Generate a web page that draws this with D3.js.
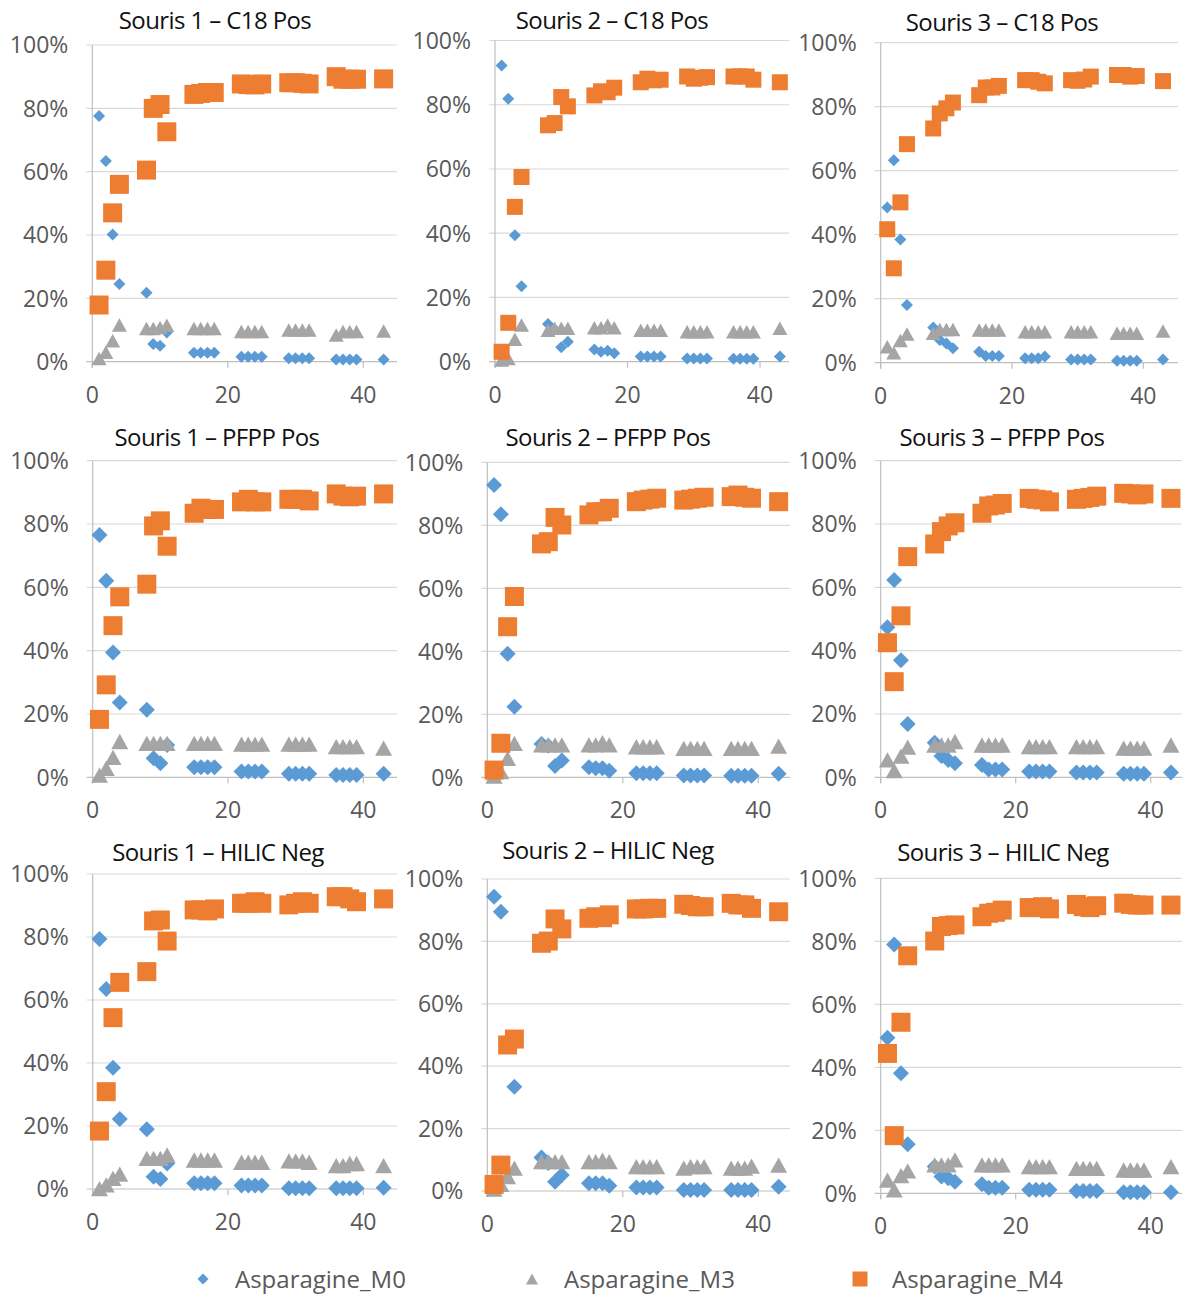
<!DOCTYPE html>
<html><head><meta charset="utf-8">
<script src="https://cdn.jsdelivr.net/npm/d3@7"></script>
<style>body{margin:0;background:#fff} svg{display:block}</style>
</head><body>
<svg id="c" width="1182" height="1294"></svg>
<script>
// ---------- DATA ----------
const timePoints = [1,2,3,4,8,9,10,11,15,16,17,18,22,23,24,25,29,30,31,32,36,37,38,39,43];
const panelTitles = [
  "Souris 1 – C18 Pos","Souris 2 – C18 Pos","Souris 3 – C18 Pos",
  "Souris 1 – PFPP Pos","Souris 2 – PFPP Pos","Souris 3 – PFPP Pos",
  "Souris 1 – HILIC Neg","Souris 2 – HILIC Neg","Souris 3 – HILIC Neg"];
const seriesNames = ["Asparagine_M0","Asparagine_M3","Asparagine_M4"];
const yTickValues = [0,20,40,60,80,100];
const xTickValues = [0,20,40];

const s1C18_M0 = [77.6,63.4,40.2,24.5,21.8,5.6,5.0,9.2,2.8,2.8,2.8,2.8,1.6,1.6,1.6,1.6,1.1,1.1,1.1,1.1,0.7,0.7,0.7,0.7,0.7];
const s1C18_M3 = [1.0,3.0,6.6,11.6,10.5,10.5,10.8,11.5,10.5,10.5,10.5,10.5,9.5,9.5,9.5,9.5,10.0,10.0,10.0,10.0,8.4,9.5,9.5,9.5,9.7];
const s1C18_M4 = [17.9,28.9,47.0,56.0,60.5,80.0,81.2,72.6,84.4,84.7,85.0,85.0,87.7,87.5,87.4,87.7,88.1,88.1,87.9,87.7,90.0,89.2,89.2,89.2,89.3];

const s2C18_M0 = [92.2,81.9,39.4,23.5,11.7,10.0,4.5,6.2,3.8,3.1,3.4,2.6,1.6,1.6,1.6,1.6,1.0,1.0,1.0,1.0,0.9,0.9,0.9,0.9,1.6];
const s2C18_M3 = [0.5,1.0,7.0,11.4,9.8,10.4,10.4,10.4,10.6,10.6,11.4,10.6,9.8,9.8,9.8,9.8,9.3,9.3,9.3,9.3,9.3,9.3,9.3,9.3,10.4];
const s2C18_M4 = [3.1,12.1,48.2,57.5,73.6,74.3,82.4,79.5,82.9,84.2,83.9,85.3,87.0,88.1,87.6,87.8,88.8,88.1,88.4,88.6,88.8,88.8,88.8,87.8,87.0];

const s3C18_M0 = [48.5,63.3,38.5,18.0,11.0,7.1,6.0,4.5,3.4,2.1,2.1,2.1,1.4,1.4,1.4,1.9,1.0,1.0,1.0,1.0,0.6,0.6,0.6,0.6,1.0];
const s3C18_M3 = [5.0,3.1,6.9,9.0,9.2,10.4,10.4,10.4,10.2,10.2,10.2,10.2,9.7,9.7,9.7,9.7,9.7,9.7,9.7,9.7,9.2,9.2,9.2,9.2,9.9];
const s3C18_M4 = [41.7,29.5,50.1,68.3,73.2,77.9,79.5,81.3,83.6,86.0,86.0,86.5,88.3,88.3,87.8,87.3,88.3,88.1,88.5,89.4,89.9,89.9,89.4,89.6,88.0];

const s1PFPP_M0 = [76.5,62.1,39.4,23.6,21.3,6.0,4.4,10.2,3.2,3.2,3.2,3.2,1.8,1.8,1.8,1.8,1.1,1.1,1.1,1.1,0.7,0.7,0.7,0.7,1.1];
const s1PFPP_M3 = [0.7,2.8,6.3,11.3,10.7,10.7,10.7,10.7,10.7,10.7,10.7,10.7,10.5,10.5,10.5,10.5,10.5,10.5,10.5,10.5,9.7,9.7,9.7,9.7,9.2];
const s1PFPP_M4 = [18.3,29.2,47.9,57.0,61.0,79.4,81.0,73.0,83.4,85.0,84.6,84.6,87.0,87.8,87.0,87.0,87.8,87.8,87.8,87.3,89.5,88.8,88.6,88.8,89.5];

const s2PFPP_M0 = [92.8,83.5,39.2,22.4,10.6,10.0,3.6,5.3,3.2,2.9,2.9,2.1,1.3,1.3,1.3,1.3,0.6,0.6,0.6,0.6,0.5,0.5,0.5,0.5,1.1];
const s2PFPP_M3 = [0.4,1.8,6.0,10.8,10.3,10.3,10.3,10.3,10.3,10.3,11.0,10.3,9.7,9.7,9.7,9.7,9.2,9.2,9.2,9.2,9.2,9.2,9.2,9.2,9.9];
const s2PFPP_M4 = [2.3,10.8,47.8,57.4,74.1,74.8,82.5,80.1,83.3,84.3,84.3,85.4,87.5,88.0,88.3,88.6,88.0,88.3,88.6,88.9,89.1,89.6,88.9,88.6,87.5];

const s3PFPP_M0 = [47.4,62.3,37.0,16.8,10.9,6.7,5.5,4.4,3.9,2.5,2.5,2.5,1.8,1.8,1.8,1.8,1.5,1.5,1.5,1.5,1.1,1.1,1.1,1.1,1.5];
const s3PFPP_M3 = [5.5,2.1,6.7,9.5,10.2,10.2,10.2,11.3,10.2,10.2,10.2,10.2,9.7,9.7,9.7,9.7,9.7,9.7,9.7,9.7,9.2,9.2,9.2,9.2,10.2];
const s3PFPP_M4 = [42.5,30.2,51.0,69.7,73.7,77.6,79.4,80.4,83.4,85.7,86.0,86.5,88.1,87.8,87.6,87.0,87.8,88.1,88.4,88.8,89.7,89.5,89.2,89.5,88.1];

const s1HILIC_M0 = [79.4,63.5,38.5,22.2,19.0,3.9,3.2,8.1,1.8,1.8,1.8,1.8,1.1,1.1,1.1,1.1,0.2,0.2,0.2,0.2,0.2,0.2,0.2,0.2,0.4];
const s1HILIC_M3 = [0.1,1.3,3.4,4.7,9.7,9.7,9.7,10.8,9.2,9.2,9.2,9.2,8.5,8.5,8.5,8.5,8.9,8.9,8.9,8.5,7.4,7.4,8.1,8.1,7.4];
const s1HILIC_M4 = [18.4,30.9,54.4,65.6,69.0,85.1,85.4,78.7,88.6,88.6,88.3,88.9,90.7,90.7,91.2,90.7,90.2,90.7,91.2,90.7,92.8,92.8,92.1,91.2,92.1];

const s2HILIC_M0 = [94.3,89.5,47.0,33.4,10.7,9.0,3.0,5.1,2.5,2.5,2.5,1.7,1.1,1.1,1.1,1.1,0.3,0.3,0.3,0.3,0.3,0.3,0.3,0.3,1.4];
const s2HILIC_M3 = [0.6,2.1,4.6,7.3,9.4,9.4,9.4,9.4,9.4,9.4,9.9,9.4,7.8,7.8,7.8,7.8,7.3,7.8,7.8,7.8,7.3,7.3,7.3,8.0,8.3];
const s2HILIC_M4 = [2.1,8.3,46.8,48.7,79.4,80.1,87.2,84.0,87.4,87.9,87.6,88.5,90.4,90.4,90.6,90.6,91.9,91.5,91.1,91.1,92.2,91.7,91.7,90.6,89.5];

const s3HILIC_M0 = [49.4,79.0,38.1,15.6,8.5,5.3,4.8,3.7,2.9,1.8,1.8,1.8,1.1,1.1,1.1,1.1,0.7,0.7,0.7,0.7,0.3,0.3,0.3,0.3,0.3];
const s3HILIC_M3 = [4.2,1.1,5.6,7.1,9.0,9.0,9.0,10.6,9.0,9.0,9.0,9.0,8.5,8.5,8.5,8.5,7.9,7.9,7.9,7.9,7.4,7.4,7.4,7.4,8.5];
const s3HILIC_M4 = [44.4,18.3,54.3,75.4,80.1,84.7,85.0,85.2,87.8,88.9,89.2,89.9,90.7,90.7,91.0,90.3,91.7,91.0,90.7,91.3,92.1,91.7,91.5,91.5,91.5];

const panelSeries = [
  [s1C18_M0, s1C18_M3, s1C18_M4], [s2C18_M0, s2C18_M3, s2C18_M4], [s3C18_M0, s3C18_M3, s3C18_M4],
  [s1PFPP_M0, s1PFPP_M3, s1PFPP_M4], [s2PFPP_M0, s2PFPP_M3, s2PFPP_M4], [s3PFPP_M0, s3PFPP_M3, s3PFPP_M4],
  [s1HILIC_M0, s1HILIC_M3, s1HILIC_M4], [s2HILIC_M0, s2HILIC_M3, s2HILIC_M4], [s3HILIC_M0, s3HILIC_M3, s3HILIC_M4]];

// ---------- LAYOUT / STYLE ----------
const colors = ["#5B9BD5", "#A5A5A5", "#ED7D31"];
const shapes = ["diamond", "triangle", "square"];
// left, top, x at 40, plot right, bottom, title x, title y, marker sizes [diamond, triangle, square]
const layout = [
  {l:92.3, t:45,    x40:363.3,  r:397,  b:361.7,  tx:215,  ty:20,  ms:[12,15,19]},
  {l:495,  t:40.5,  x40:760,    r:789,  b:361.7,  tx:612,  ty:20,  ms:[12,15,16]},
  {l:880.7,t:42.7,  x40:1143.3, r:1178, b:362.7,  tx:1002, ty:22,  ms:[12,15,16]},
  {l:92.7, t:460.7, x40:363.3,  r:397,  b:777.3,  tx:217,  ty:437, ms:[16,17,19]},
  {l:487.3,t:462.3, x40:758.3,  r:790,  b:777.3,  tx:608,  ty:437, ms:[16,17,19]},
  {l:880.7,t:460.7, x40:1150.7, r:1182, b:777.3,  tx:1002, ty:437, ms:[16,17,19]},
  {l:92.7, t:874,   x40:363.3,  r:397,  b:1189,   tx:218,  ty:852, ms:[16,17,19]},
  {l:487.3,t:879,   x40:758.3,  r:790,  b:1191,   tx:608,  ty:850, ms:[16,17,19]},
  {l:880.7,t:878.3, x40:1150.7, r:1182, b:1193.3, tx:1003, ty:852, ms:[16,17,19]}];

const FONT = "'Open Sans', 'Noto Sans', sans-serif";

function markerPath(shape, cx, cy, s) {
  const h = s / 2;
  if (shape === "diamond") return `M${cx},${cy-h}L${cx+h},${cy}L${cx},${cy+h}L${cx-h},${cy}Z`;
  if (shape === "triangle") { const th = s * 0.9; return `M${cx},${cy-th/2}L${cx+h},${cy+th/2}L${cx-h},${cy+th/2}Z`; }
  return `M${cx-h},${cy-h}H${cx+h}V${cy+h}H${cx-h}Z`;
}

const svg = d3.select("#c");
svg.append("rect").attr("width",1182).attr("height",1294).attr("fill","#fff");

layout.forEach((L, i) => {
  const g = svg.append("g");
  const x = d3.scaleLinear().domain([0, 40]).range([L.l, L.x40]);
  const y = d3.scaleLinear().domain([0, 100]).range([L.b, L.t]);

  g.selectAll("line.grid").data(yTickValues).join("line")
    .attr("x1", L.l - 6).attr("x2", L.r)
    .attr("y1", d => y(d)).attr("y2", d => y(d))
    .attr("stroke", d => d === 0 ? "#BFBFBF" : "#D9D9D9").attr("stroke-width", 1.2);
  g.append("line").attr("x1", L.l).attr("x2", L.l).attr("y1", y(100)).attr("y2", y(0) + 6)
    .attr("stroke", "#BFBFBF").attr("stroke-width", 1.2);
  g.selectAll("line.xt").data(xTickValues).join("line")
    .attr("x1", d => x(d)).attr("x2", d => x(d)).attr("y1", y(0)).attr("y2", y(0) + 6)
    .attr("stroke", "#BFBFBF").attr("stroke-width", 1.2);

  g.selectAll("text.yl").data(yTickValues).join("text")
    .attr("x", L.l - 24).attr("y", d => y(d)).attr("dy", "0.36em")
    .attr("text-anchor", "end").attr("font-family", FONT).attr("font-size", 23)
    .attr("fill", "#595959").text(d => d + "%");
  g.selectAll("text.xl").data(xTickValues).join("text")
    .attr("x", d => x(d)).attr("y", y(0) + 41)
    .attr("text-anchor", "middle").attr("font-family", FONT).attr("font-size", 23)
    .attr("fill", "#595959").text(d => d);

  g.append("text").attr("x", L.tx).attr("y", L.ty).attr("dy", "0.36em")
    .attr("text-anchor", "middle").attr("font-family", FONT).attr("font-size", 24)
    .attr("letter-spacing", "-0.6").attr("fill", "#111").text(panelTitles[i]);

  panelSeries[i].forEach((vals, si) => {
    const pts = timePoints.map((t, k) => ({t, v: vals[k]}));
    g.append("g").selectAll("path").data(pts).join("path")
      .attr("d", d => markerPath(shapes[si], x(d.t), y(d.v), L.ms[si]))
      .attr("fill", colors[si]);
  });
});

const legendX = [203, 532, 860];
const legendSizes = [11, 12, 15];
const lg = svg.append("g");
seriesNames.forEach((name, si) => {
  lg.append("path").attr("d", markerPath(shapes[si], legendX[si], 1279, legendSizes[si])).attr("fill", colors[si]);
  lg.append("text").attr("x", legendX[si] + 32).attr("y", 1279).attr("dy", "0.36em")
    .attr("font-family", FONT).attr("font-size", 24).attr("fill", "#595959").text(name);
});
</script>
</body></html>
